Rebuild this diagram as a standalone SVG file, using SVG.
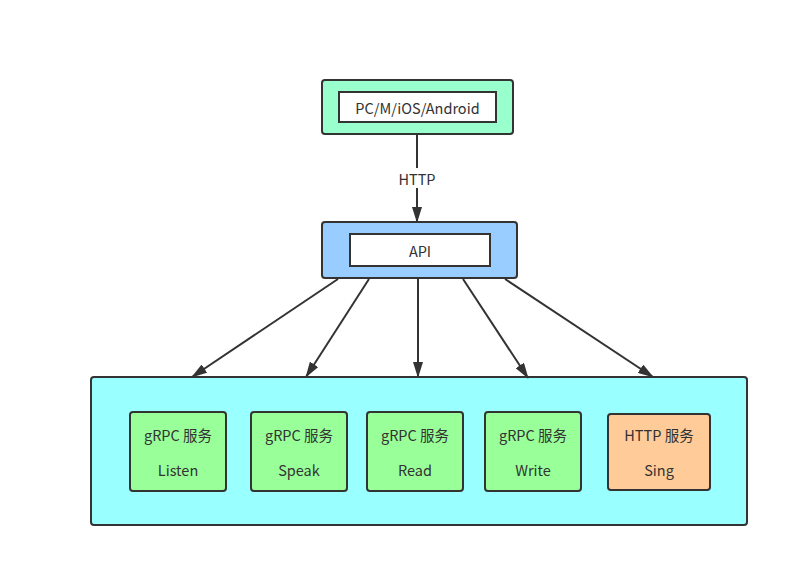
<svg xmlns="http://www.w3.org/2000/svg" width="809" height="588" viewBox="0 0 809 588">
<style>
.box{stroke:#333;stroke-width:2}
.inner{fill:#fff;stroke:#333;stroke-width:2}
.t{font-family:"Noto Sans CJK SC","Noto Sans",sans-serif;font-size:14.5px;fill:#333;text-anchor:middle;dominant-baseline:central}
.l{stroke:#333;stroke-width:2;fill:none}
.c{stroke:#333;stroke-width:2;fill:none;marker-end:url(#ah)}
</style>
<defs>
<marker id="ah" markerWidth="16" markerHeight="10" refX="15" refY="5" orient="auto" markerUnits="userSpaceOnUse" viewBox="0 0 16 10">
<path d="M0,0 L16,5 L0,10 Z" fill="#333"/>
</marker>
</defs>
<rect width="809" height="588" fill="#fff"/>
<g id="client">
<rect class="box" x="322" y="80" width="191" height="54" rx="3" fill="#99ffcc"/>
<rect class="inner" x="339" y="92" width="157" height="30"/>
<text class="t" x="417.5" y="107">PC/M/iOS/Android</text>
</g>
<g id="api">
<rect class="box" x="322" y="222" width="195" height="56" rx="3" fill="#99ccff"/>
<rect class="inner" x="350" y="234" width="140" height="32"/>
<text class="t" x="420" y="250">API</text>
</g>
<g id="services">
<rect class="box" x="91" y="377" width="656" height="148" rx="3" fill="#99ffff"/>
</g>
<g id="listen">
<rect class="box" x="130" y="412" width="96" height="79" rx="3" fill="#99ff99"/>
<text class="t" x="178" y="434">gRPC 服务</text>
<text class="t" x="178" y="469">Listen</text>
</g>
<g id="speak">
<rect class="box" x="251" y="412" width="96" height="79" rx="3" fill="#99ff99"/>
<text class="t" x="299" y="434">gRPC 服务</text>
<text class="t" x="299" y="469">Speak</text>
</g>
<g id="read">
<rect class="box" x="367" y="412" width="96" height="79" rx="3" fill="#99ff99"/>
<text class="t" x="415" y="434">gRPC 服务</text>
<text class="t" x="415" y="469">Read</text>
</g>
<g id="write">
<rect class="box" x="485" y="412" width="96" height="79" rx="3" fill="#99ff99"/>
<text class="t" x="533" y="434">gRPC 服务</text>
<text class="t" x="533" y="469">Write</text>
</g>
<g id="sing">
<rect class="box" x="608" y="414" width="102" height="76" rx="3" fill="#ffcc99"/>
<text class="t" x="659" y="434">HTTP 服务</text>
<text class="t" x="659" y="469">Sing</text>
</g>
<g id="connectors">
<line class="l" x1="417" y1="135" x2="417" y2="168"/>
<line class="c" x1="417" y1="188" x2="417" y2="222"/>
<text class="t" x="417" y="178">HTTP</text>
<line class="c" x1="338" y1="279" x2="192" y2="377"/>
<line class="c" x1="369" y1="279" x2="306" y2="377"/>
<line class="c" x1="418" y1="279" x2="418" y2="377"/>
<line class="c" x1="463" y1="279" x2="528" y2="378"/>
<line class="c" x1="505" y1="279" x2="653" y2="377"/>
</g>
</svg>
